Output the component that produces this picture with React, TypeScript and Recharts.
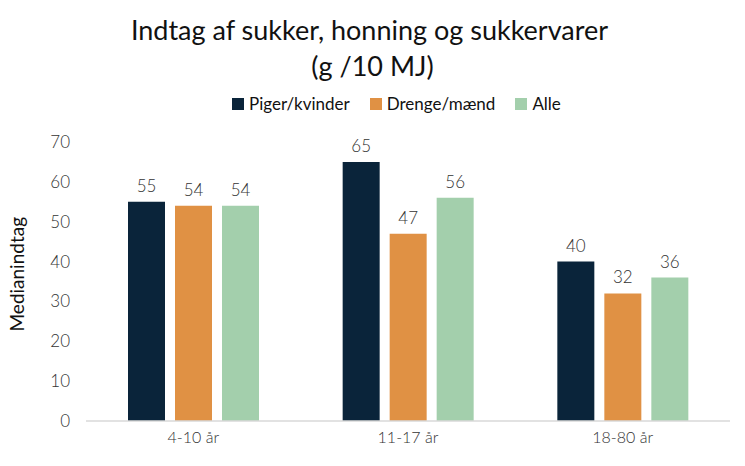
import { BarChart, Bar, XAxis, YAxis, LabelList } from 'recharts';

const categories = ['4-10 år', '11-17 år', '18-80 år'];
const piger = [55, 65, 40];
const drenge = [54, 47, 32];
const alle = [54, 56, 36];
const yTicks = [0, 10, 20, 30, 40, 50, 60, 70];

const series = [
  { key: 'piger', name: 'Piger/kvinder', color: '#0a243a' },
  { key: 'drenge', name: 'Drenge/mænd', color: '#e09144' },
  { key: 'alle', name: 'Alle', color: '#a3cfac' },
];

const data = categories.map((c, i) => ({ group: c, piger: piger[i], drenge: drenge[i], alle: alle[i] }));

const font = 'Lato, "Open Sans", sans-serif';
const textColor = '#333333';

export default function App() {
  return (
    <div style={{ position: 'absolute', left: 0, top: 0, width: 745, height: 466, background: 'white', fontFamily: font }}>
      <div style={{ position: 'absolute', top: 12, left: 0, width: 745, textAlign: 'center', fontSize: 27, lineHeight: '36px', color: '#111' }}>
        <div style={{ marginLeft: -6 }}>Indtag af sukker, honning og sukkervarer</div>
        <div>(g /10 MJ)</div>
      </div>
      {/* legend */}
      <div style={{ position: 'absolute', top: 92, left: 232, display: 'flex', alignItems: 'center', fontSize: 17, lineHeight: '24px', color: '#111' }}>
        {series.map((s) => (
          <div key={s.key} style={{ display: 'flex', alignItems: 'center', marginRight: 20 }}>
            <span style={{ width: 12, height: 12, background: s.color, display: 'inline-block', marginRight: 5 }} />
            <span>{s.name}</span>
          </div>
        ))}
      </div>
      <BarChart
        width={745}
        height={466}
        data={data}
        margin={{ top: 142, right: 15, bottom: 0, left: 0 }}
        barCategoryGap={42}
        barGap={10}
        barSize={37}
      >
        <XAxis
          dataKey="group"
          height={45}
          tickLine={false}
          tickSize={0}
          tickMargin={11}
          axisLine={{ stroke: '#d9d9d9', strokeWidth: 1.5 }}
          tick={{ fontSize: 16, fill: textColor, fontFamily: font, fontWeight: 300 }}
        />
        <YAxis
          width={86}
          domain={[0, 70]}
          ticks={yTicks}
          axisLine={false}
          tickLine={false}
          tickSize={0}
          tickMargin={16}
          tick={{ fontSize: 17, fill: textColor, fontFamily: font, fontWeight: 300 }}
          label={{ value: 'Medianindtag', angle: -90, position: 'insideLeft', dx: 12, dy: 50, fontSize: 19, fill: '#111', fontFamily: font }}
        />
        {series.map((s) => (
          <Bar key={s.key} dataKey={s.key} name={s.name} fill={s.color} isAnimationActive={false}>
            <LabelList dataKey={s.key} position="top" offset={10} fontSize={17} fill={textColor} fontFamily={font} fontWeight={300} />
          </Bar>
        ))}
      </BarChart>
    </div>
  );
}
